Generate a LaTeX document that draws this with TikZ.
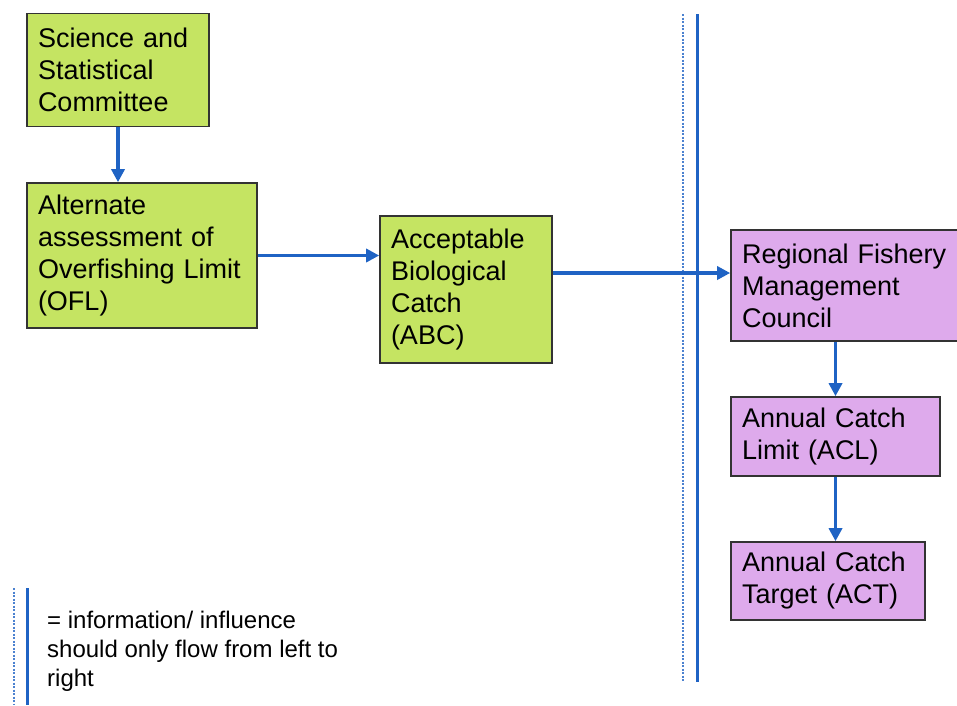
\documentclass[tikz,border=0pt]{standalone}
\usepackage{fontspec}
\setmainfont{Liberation Sans}
\usetikzlibrary{calc,arrows.meta}
\definecolor{flowblue}{RGB}{31,99,196}
\definecolor{sscgreen}{RGB}{197,228,98}
\definecolor{fmcpurple}{RGB}{222,170,236}

\begin{document}
\begin{tikzpicture}[x=1pt,y=-1pt,>={Triangle[length=13pt,width=13pt]},
  box/.style={draw=black!80,line width=1.6pt,align=left,inner xsep=11pt,inner ysep=0pt,
    font=\fontsize{27}{32}\selectfont},
  greenbox/.style={box,fill=sscgreen},
  purplebox/.style={box,fill=fmcpurple},
  flow/.style={->,flowblue,line width=3.6pt},
  wall/.style={flowblue,line width=3pt},
  wallhint/.style={flowblue!80,line width=1.4pt,dash pattern=on 2pt off 1.5pt}]
  \useasboundingbox (0,0) rectangle (957,705);
  % left side: science
  \node[greenbox,text width=160pt,minimum height=113pt] (ssc) at (118,70) {Science and\\Statistical\\Committee};
  \node[greenbox,text width=208pt,minimum height=145pt] (ofl) at (142,255.5) {Alternate\\assessment of\\Overfishing Limit\\(OFL)};
  \node[greenbox,text width=150pt,minimum height=147pt] (abc) at (466,289.5) {Acceptable\\Biological\\Catch\\(ABC)};
  % right side: management
  \node[purplebox,text width=206pt,minimum height=111pt] (fmc) at (845,285.5) {Regional Fishery\\Management\\Council};
  \node[purplebox,text width=187pt,minimum height=79pt] (acl) at (835.5,436.5) {Annual Catch\\Limit (ACL)};
  \node[purplebox,text width=172pt,minimum height=78pt] (act) at (828,581) {Annual Catch\\Target (ACT)};
  % the wall between them
  \coordinate (wtop) at (697,14); \coordinate (wbot) at (697,682);
  \draw[wallhint] ($(wtop)+(-14,0)$) -- ($(wbot)+(-14,0)$);
  \draw[wall] (wtop) -- (wbot);
  % connectors
  \coordinate (cross) at (0,273);
  \draw[flow] (ssc.south) -- (ssc.south |- ofl.north);
  \draw[flow] (ofl.east) -- (ofl.east -| abc.west);
  \draw[flow] (abc.east |- cross) -- (fmc.west |- cross);
  \draw[flow] (acl.north |- fmc.south) -- (acl.north);
  \draw[flow] (acl.south) -- (acl.south |- act.north);
  % legend
  \coordinate (ltop) at (27,588); \coordinate (lbot) at (27,705);
  \draw[wallhint] ($(ltop)+(-13,0)$) -- ($(lbot)+(-13,0)$);
  \draw[wall] (ltop) -- (lbot);
  \node[anchor=west,align=left,inner sep=0pt,font=\fontsize{24}{29}\selectfont] (key) at (47,651)
    {= information/ influence\\should only flow from left to\\right};
\end{tikzpicture}
\end{document}
